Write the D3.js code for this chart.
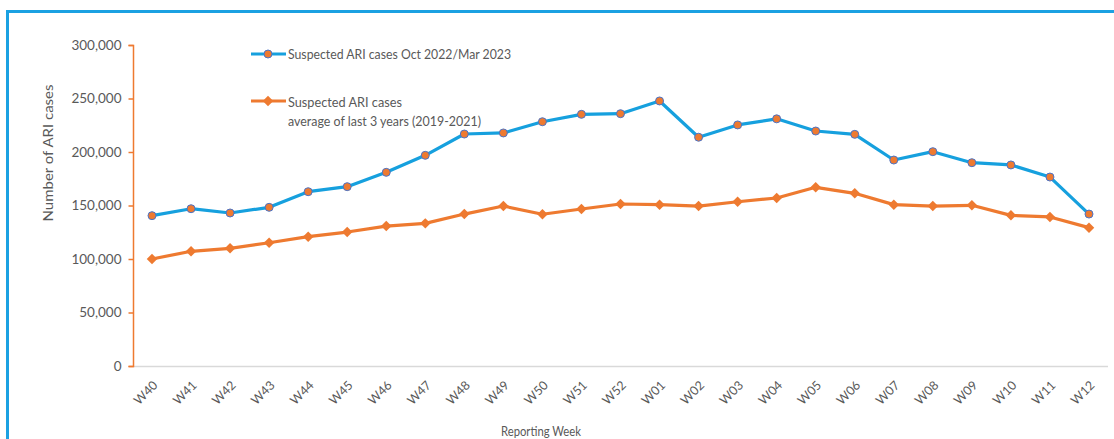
<!DOCTYPE html>
<html><head><meta charset="utf-8">
<script src="https://cdn.jsdelivr.net/npm/d3@7"></script>
<style>
html,body{margin:0;padding:0;background:#fff;}
svg{display:block;font-family:Lato,"Open Sans",sans-serif;}
</style></head>
<body>
<svg id="chart" width="1114" height="439"></svg>
<script>
const weeks = ["W40","W41","W42","W43","W44","W45","W46","W47","W48","W49","W50","W51","W52",
  "W01","W02","W03","W04","W05","W06","W07","W08","W09","W10","W11","W12"];
const current = [140500,147000,143000,148300,162900,167600,181000,196900,216800,217800,228300,235200,235800,
  247700,213800,225300,231000,219600,216500,192500,200300,190000,187900,176600,142000];
const average = [100000,107200,110000,115200,120900,125200,130800,133300,142000,149500,141800,146700,151400,
  150800,149500,153500,157000,167000,161400,150800,149500,150200,140800,139300,129300];
const yTicks = [0,50000,100000,150000,200000,250000,300000];
const seriesNames = ["Suspected ARI cases Oct 2022/Mar 2023", "Suspected ARI cases", "average of last 3 years (2019-2021)"];

const svg = d3.select("#chart");
const blue = "#16A0DE", orange = "#EE7A30", txt = "#595959";

// frame
svg.append("path").attr("d","M7.5,439 V11.5 H1114").attr("fill","none").attr("stroke","#1BA1E2").attr("stroke-width",3);

const x = d3.scalePoint().domain(weeks).range([152,1089]);
const y = d3.scaleLinear().domain([0,300000]).range([366,45]);

// x axis line
svg.append("line").attr("x1",133).attr("x2",1108).attr("y1",y(0)+0.5).attr("y2",y(0)+0.5)
  .attr("stroke","#d9d9d9").attr("stroke-width",1.5);

// y axis
const yAxis = d3.axisLeft(y).tickValues(yTicks).tickSize(5).tickPadding(7)
  .tickFormat(d3.format(","));
const gy = svg.append("g").attr("transform","translate(133.5,0)").call(yAxis);
gy.select(".domain").attr("stroke",orange).attr("stroke-width",1.5).attr("d","M-5,45.5H0V366.5H-5");
gy.selectAll(".tick line").attr("stroke",orange).attr("stroke-width",1.5);
gy.selectAll(".tick text").attr("fill",txt).attr("font-size",13.5).attr("font-family","Lato");

// x labels
const xAxis = d3.axisBottom(x).tickSize(0).tickPadding(0);
const gx = svg.append("g").attr("transform","translate(0,366)").call(xAxis);
gx.select(".domain").remove();
gx.selectAll(".tick text").attr("fill",txt).attr("font-size",12.5).attr("font-family","Lato")
  .attr("text-anchor","end").attr("dy",0)
  .attr("transform","translate(6,20) rotate(-45)");

// lines
const line = arr => d3.line().x((d,i)=>x(weeks[i])).y(d=>y(d))(arr);
svg.append("path").attr("d",line(average)).attr("fill","none").attr("stroke",orange).attr("stroke-width",3.2).attr("stroke-linejoin","round");
svg.append("path").attr("d",line(current)).attr("fill","none").attr("stroke",blue).attr("stroke-width",3.2).attr("stroke-linejoin","round");

const diamond = d3.symbol().type(d3.symbolDiamond2).size(70);
svg.append("g").selectAll("path").data(average).join("path")
  .attr("d",diamond).attr("transform",(d,i)=>`translate(${x(weeks[i])},${y(d)})`)
  .attr("fill",orange);
svg.append("g").selectAll("circle").data(current).join("circle")
  .attr("cx",(d,i)=>x(weeks[i])).attr("cy",d=>y(d)).attr("r",4)
  .attr("fill",orange).attr("stroke","#4A74C9").attr("stroke-width",1);

// legend
const lg = svg.append("g");
lg.append("line").attr("x1",251).attr("x2",286).attr("y1",54).attr("y2",54).attr("stroke",blue).attr("stroke-width",3);
lg.append("circle").attr("cx",268).attr("cy",54).attr("r",4).attr("fill",orange).attr("stroke","#4A74C9");
lg.append("text").attr("x",288).attr("y",59).attr("fill",txt).attr("font-size",14)
  .attr("textLength",223).attr("lengthAdjust","spacingAndGlyphs").text(seriesNames[0]);
lg.append("line").attr("x1",251).attr("x2",286).attr("y1",101).attr("y2",101).attr("stroke",orange).attr("stroke-width",3);
lg.append("path").attr("d",diamond).attr("transform","translate(268,101)").attr("fill",orange);
lg.append("text").attr("x",288).attr("y",106.5).attr("fill",txt).attr("font-size",14)
  .attr("textLength",114).attr("lengthAdjust","spacingAndGlyphs").text(seriesNames[1]);
lg.append("text").attr("x",288).attr("y",126).attr("fill",txt).attr("font-size",14)
  .attr("textLength",193).attr("lengthAdjust","spacingAndGlyphs").text(seriesNames[2]);

// axis titles
svg.append("text").attr("transform","translate(53,153) rotate(-90)").attr("text-anchor","middle")
  .attr("fill",txt).attr("font-size",14).attr("textLength",137).attr("lengthAdjust","spacingAndGlyphs")
  .text("Number of ARI cases");
svg.append("text").attr("x",541).attr("y",436).attr("text-anchor","middle")
  .attr("fill",txt).attr("font-size",14).attr("textLength",80).attr("lengthAdjust","spacingAndGlyphs")
  .text("Reporting Week");
</script>
</body></html>
